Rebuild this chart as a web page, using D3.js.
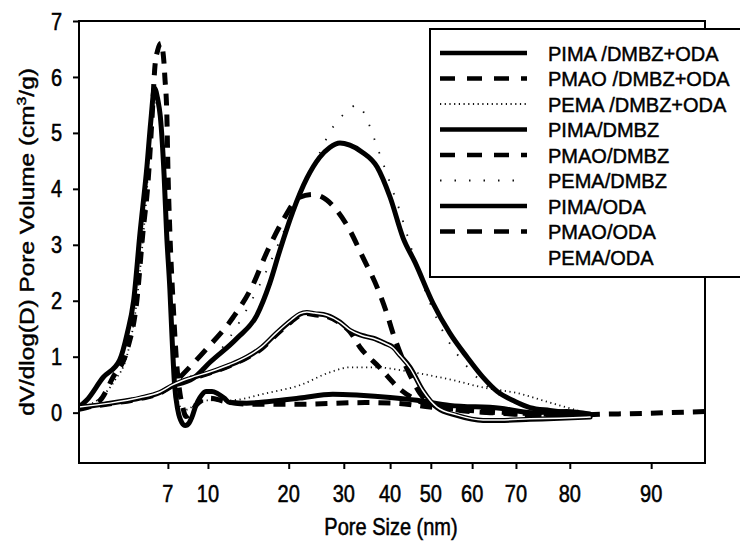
<!DOCTYPE html>
<html>
<head>
<meta charset="utf-8">
<script src="https://cdn.jsdelivr.net/npm/d3@7"></script>
<style>
  body { margin: 0; background: #fff; }
  svg { display: block; }
  text { font-family: "Liberation Sans", Arial, sans-serif; fill: #000; stroke: #000; stroke-width: 0.45px; }
</style>
</head>
<body>
<svg id="chart" width="740" height="544"></svg>
<script>
// ---- data -------------------------------------------------------------
const seriesNames = [
  "PIMA /DMBZ+ODA", "PMAO /DMBZ+ODA", "PEMA /DMBZ+ODA",
  "PIMA/DMBZ", "PMAO/DMBZ", "PEMA/DMBZ",
  "PIMA/ODA", "PMAO/ODA", "PEMA/ODA"
];

const xTickValues = [7, 10, 20, 30, 40, 50, 60, 70, 80, 90];
const yTickValues = [0, 1, 2, 3, 4, 5, 6, 7];

// PIMA /DMBZ+ODA
const pimaDmbzOdaX = [0, 0.6, 1.9, 3.2, 3.8, 4.3, 4.8, 5.35, 5.65, 5.95, 6.2, 6.4, 6.7, 6.9, 7.15, 7.3, 7.5, 7.75, 8.05, 8.3, 8.6, 8.8, 9.1, 9.4, 9.85, 10.5, 11.2, 12, 12.7, 14.8, 17.6, 22, 28, 33.5, 40, 46.6, 54.6, 66.4, 73, 79.4, 82.5];
const pimaDmbzOdaY = [0.1, 0.22, 0.63, 0.94, 1.42, 2.0, 3.2, 4.4, 5.2, 5.8, 5.6, 5.3, 4.25, 3.2, 2.2, 1.4, 0.5, 0.04, -0.18, -0.23, -0.18, -0.08, 0.13, 0.27, 0.38, 0.38, 0.34, 0.26, 0.18, 0.17, 0.2, 0.26, 0.33, 0.31, 0.27, 0.22, 0.13, 0.08, 0.0, 0.02, -0.03];

// PMAO /DMBZ+ODA
const pmaoDmbzOdaX = [0, 1.65, 2.67, 3.78, 4.56, 5.03, 5.43, 5.74, 5.98, 6.2, 6.45, 6.69, 6.76, 6.92, 7.0, 7.15, 7.38, 7.68, 7.9, 8.13, 8.35, 8.65, 9.1, 9.55, 10.25, 12.1, 15.2, 22, 34.6, 41.2, 49.8, 59.5, 70.7, 78.1, 83.7, 89.9, 100];
const pmaoDmbzOdaY = [0.06, 0.22, 0.63, 1.11, 2.01, 3.21, 4.1, 5.22, 6.19, 6.48, 6.6, 6.26, 6.0, 5.3, 4.39, 3.21, 2.01, 0.81, 0.35, 0.08, -0.07, -0.03, 0.13, 0.22, 0.26, 0.2, 0.15, 0.15, 0.18, 0.17, 0.1, 0.04, -0.03, -0.05, -0.03, -0.01, 0.02];

// PEMA /DMBZ+ODA
const pemaDmbzOdaX = [0, 1.65, 2.83, 3.78, 4.56, 5.03, 5.35, 5.58, 5.82, 6.06, 6.29, 6.53, 6.76, 7.0, 7.23, 7.45, 7.75, 8.13, 8.65, 9.4, 12.7, 17.3, 22, 27.45, 31.3, 37.2, 42.4, 47.3, 55.4, 62.5, 70.2, 76.3, 82.1];
const pemaDmbzOdaY = [0.08, 0.26, 0.58, 1.02, 2.01, 3.09, 3.98, 4.87, 5.41, 5.53, 5.48, 5.13, 4.25, 3.09, 1.84, 0.76, 0.22, 0.04, 0.08, 0.22, 0.22, 0.35, 0.49, 0.72, 0.81, 0.81, 0.76, 0.7, 0.58, 0.45, 0.35, 0.18, -0.01];

// PIMA/DMBZ
const pimaDmbzX = [7.75, 8.88, 10.25, 13.6, 16.05, 17.65, 18.9, 20.7, 23.3, 25.6, 27.45, 29.3, 31.3, 33.9, 37.2, 40, 43.2, 46.1, 50.5, 54.6, 58.8, 62.5, 65.7, 69.8, 72.6, 76.3, 80, 82.5];
const pimaDmbzY = [0.51, 0.61, 0.9, 1.33, 1.74, 2.31, 2.9, 3.58, 4.19, 4.56, 4.74, 4.82, 4.78, 4.66, 4.39, 3.85, 3.12, 2.69, 1.96, 1.42, 0.99, 0.63, 0.38, 0.2, 0.09, 0.04, 0.0, -0.03];

// PMAO/DMBZ
const pmaoDmbzX = [7.9, 9.78, 13.1, 15.55, 17.3, 19.3, 22, 24.4, 26.9, 28.7, 31.3, 34.1, 37.2, 39.3, 40.7, 42.4, 44.9, 47.3, 51, 57.1, 64.1, 70.7, 78.1, 82.5];
const pmaoDmbzY = [0.63, 1.11, 1.7, 2.28, 2.87, 3.44, 3.85, 3.9, 3.8, 3.62, 3.26, 2.78, 2.24, 1.77, 1.42, 1.08, 0.67, 0.35, 0.13, 0.04, 0.0, -0.03, -0.05, -0.07];

// PEMA/DMBZ
const pemaDmbzX = [7.75, 11.5, 16.4, 20.2, 25.3, 27.45, 30.2, 33, 35.2, 37.2, 40, 42.4, 44.1, 47.3, 52.2, 59.5, 66.4, 72.6, 78.1, 82.5];
const pemaDmbzY = [0.51, 1.11, 2.28, 3.48, 4.57, 5.01, 5.35, 5.5, 5.2, 4.75, 4.1, 3.6, 3.2, 2.45, 1.56, 0.76, 0.31, 0.1, 0.0, -0.03];

// PIMA/ODA
const pimaOdaX = [0, 2.44, 4.8, 6.37, 7.38, 8.65, 10.25, 12.7, 14.8, 16.7, 18.5, 20.5, 22, 23.3, 24.7, 26.9, 29.3, 31.3, 33.9, 36.3, 38.9, 40.7, 42.4, 44.9, 48, 51.5, 56.3, 62.5, 66.4, 72.6, 78.1, 82.5];
const pimaOdaY = [0.09, 0.17, 0.26, 0.36, 0.49, 0.61, 0.72, 0.85, 0.99, 1.17, 1.42, 1.65, 1.76, 1.79, 1.77, 1.74, 1.62, 1.47, 1.38, 1.33, 1.24, 1.17, 1.03, 0.81, 0.4, 0.09, -0.05, -0.14, -0.14, -0.12, -0.1, -0.08];

// PMAO/ODA
const pmaoOdaX = [0, 2.44, 4.8, 6.37, 7.38, 8.65, 10.25, 12.7, 14.8, 16.7, 18.5, 20.5, 22, 23.3, 24.7, 26.9, 29.3, 31.3, 33.5, 37.8, 42.4, 47.3, 53.4, 60.7, 68.6, 76.3, 82.5];
const pmaoOdaY = [0.08, 0.16, 0.25, 0.35, 0.48, 0.6, 0.71, 0.84, 0.98, 1.15, 1.4, 1.63, 1.74, 1.77, 1.75, 1.72, 1.6, 1.45, 1.17, 0.8, 0.42, 0.2, 0.09, 0.04, 0.0, -0.03, -0.05];

// PEMA/ODA
const pemaOdaX = [0, 2.44, 4.8, 6.37, 7.38, 8.65, 10.25, 12.7, 14.8, 16.7, 18.5, 20.5, 22, 23.3, 24.7, 26.9, 29.3, 31.3, 33.9, 36.3, 38.9, 40.7, 42.4, 44.9, 48, 51.5, 56.3, 62.5, 66.4, 72.6, 78.1, 82.5];
const pemaOdaY = [0.1, 0.17, 0.27, 0.37, 0.5, 0.62, 0.73, 0.86, 1.0, 1.18, 1.43, 1.66, 1.77, 1.8, 1.78, 1.74, 1.62, 1.48, 1.38, 1.33, 1.24, 1.16, 1.02, 0.8, 0.4, 0.1, -0.04, -0.13, -0.13, -0.11, -0.1, -0.08];

// ---- layout -----------------------------------------------------------
const W = 740, H = 544;
const plot = { left: 79, right: 705, top: 21, bottom: 463 };
// the pore-size axis is spaced unevenly; these are the break points
const xBreaks = [0, 7, 10, 20, 30, 40, 50, 60, 70, 80, 90, 100];
const xBreakFrac = [0, 0.142, 0.206, 0.335, 0.423, 0.497, 0.562, 0.628, 0.698, 0.784, 0.914, 1];

const x = d3.scaleLinear()
  .domain(xBreaks)
  .range(xBreakFrac.map(f => plot.left + f * (plot.right - plot.left)));
const y = d3.scaleLinear().domain([-0.9, 7]).range([plot.bottom, plot.top]);

const styles = [
  { color: "#000", width: 5,   dash: null },      // PIMA /DMBZ+ODA
  { color: "#000", width: 5,   dash: "12 9" },    // PMAO /DMBZ+ODA
  { color: "#111", width: 1.8, dash: "1.2 3.5" }, // PEMA /DMBZ+ODA
  { color: "#000", width: 5,   dash: null },      // PIMA/DMBZ
  { color: "#000", width: 5,   dash: "14 10" },   // PMAO/DMBZ
  { color: "#111", width: 1.8, dash: "1.5 13" },  // PEMA/DMBZ
  { color: "#000", width: 5,   dash: null },      // PIMA/ODA
  { color: "#000", width: 5,   dash: "12 9" },    // PMAO/ODA
  { color: "#fff", width: 1.5, dash: null }       // PEMA/ODA
];

const seriesX = [pimaDmbzOdaX, pmaoDmbzOdaX, pemaDmbzOdaX, pimaDmbzX, pmaoDmbzX, pemaDmbzX, pimaOdaX, pmaoOdaX, pemaOdaX];
const seriesY = [pimaDmbzOdaY, pmaoDmbzOdaY, pemaDmbzOdaY, pimaDmbzY, pmaoDmbzY, pemaDmbzY, pimaOdaY, pmaoOdaY, pemaOdaY];

const series = seriesNames.map((name, i) => ({
  name,
  style: styles[i],
  points: seriesX[i].map((v, j) => [v, seriesY[i][j]])
}));

// ---- drawing ----------------------------------------------------------
const svg = d3.select("#chart");
svg.append("rect").attr("width", W).attr("height", H).attr("fill", "#fff");

svg.append("defs").append("clipPath").attr("id", "plotClip")
  .append("rect")
  .attr("x", plot.left).attr("y", plot.top)
  .attr("width", plot.right - plot.left).attr("height", plot.bottom - plot.top);

const line = d3.line()
  .x(d => x(d[0]))
  .y(d => y(d[1]))
  .curve(d3.curveMonotoneX);

// draw order: dotted and dashed first, solids on top, white line last
const drawOrder = [5, 2, 4, 1, 7, 3, 0, 6, 8];
const curves = svg.append("g").attr("clip-path", "url(#plotClip)");
drawOrder.forEach(i => {
  const s = series[i];
  curves.append("path")
    .datum(s.points)
    .attr("fill", "none")
    .attr("stroke", s.style.color)
    .attr("stroke-width", s.style.width)
    .attr("stroke-dasharray", s.style.dash)
    .attr("stroke-linejoin", "round")
    .attr("stroke-linecap", s.style.dash ? "butt" : "round")
    .attr("d", line);
});

// frame
svg.append("rect")
  .attr("x", plot.left).attr("y", plot.top)
  .attr("width", plot.right - plot.left).attr("height", plot.bottom - plot.top)
  .attr("fill", "none").attr("stroke", "#000").attr("stroke-width", 2);

// axes (tick marks from d3 axes, labels placed separately)
const yAxis = svg.append("g")
  .attr("transform", `translate(${plot.left},0)`)
  .call(d3.axisLeft(y).tickValues(yTickValues).tickSize(6).tickFormat(""));
const xAxis = svg.append("g")
  .attr("transform", `translate(0,${plot.bottom})`)
  .call(d3.axisBottom(x).tickValues(xTickValues).tickSize(6).tickFormat(""));
[yAxis, xAxis].forEach(a => {
  a.select(".domain").remove();
  a.selectAll(".tick line").attr("stroke", "#000").attr("stroke-width", 2);
});

// tick labels (glyphs drawn slightly tall)
svg.append("g").selectAll("text")
  .data(yTickValues)
  .join("text")
  .attr("text-anchor", "end")
  .attr("font-size", 20)
  .attr("transform", d => `translate(62,${y(d) + 8.6}) scale(1,1.2)`)
  .text(d => d);

svg.append("g").selectAll("text")
  .data(xTickValues)
  .join("text")
  .attr("text-anchor", "middle")
  .attr("font-size", 20)
  .attr("transform", d => `translate(${x(d)},502) scale(1,1.2)`)
  .text(d => d);

// axis titles
svg.append("text")
  .attr("text-anchor", "middle")
  .attr("font-size", 20)
  .attr("transform", `translate(391,535) scale(1,1.2)`)
  .text("Pore Size (nm)");

const yTitle = svg.append("text")
  .attr("text-anchor", "middle")
  .attr("font-size", 20)
  .attr("transform", `translate(34,242) rotate(-90) scale(1.22,1)`);
yTitle.append("tspan").text("dV/dlog(D) Pore Volume (cm");
yTitle.append("tspan").attr("font-size", 13).attr("dy", -8).text("3");
yTitle.append("tspan").attr("dy", 8).text("/g)");

// legend
const legend = svg.append("g");
legend.append("rect")
  .attr("x", 430).attr("y", 29)
  .attr("width", 330).attr("height", 248)
  .attr("fill", "#fff").attr("stroke", "#000").attr("stroke-width", 2);

const legendRow = d3.scaleLinear().domain([0, 8]).range([53, 257]);
const legendSampleDash = ["", "15 12", "1.2 3.5", "", "15 12", "1.5 13", "", "15 12", ""];
series.forEach((s, i) => {
  const ry = legendRow(i);
  legend.append("line")
    .attr("x1", 440).attr("x2", 527)
    .attr("y1", ry).attr("y2", ry)
    .attr("stroke", s.style.color)
    .attr("stroke-width", Math.min(s.style.width, 4.5))
    .attr("stroke-dasharray", legendSampleDash[i] || null);
  legend.append("text")
    .attr("x", 548).attr("y", ry + 7.5)
    .attr("font-size", 20)
    .text(s.name);
});
</script>
</body>
</html>
